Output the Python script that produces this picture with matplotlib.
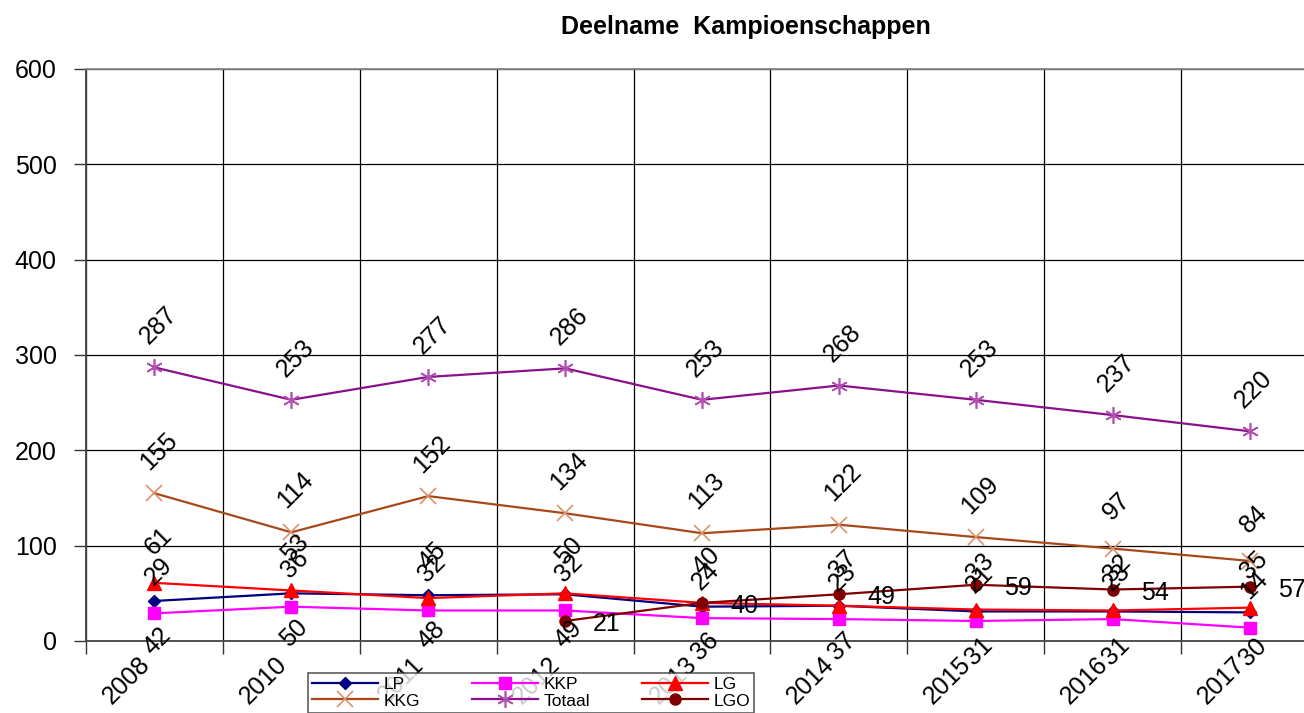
import matplotlib
matplotlib.use('Agg')
import matplotlib.pyplot as plt
import numpy as np

plt.rcParams['font.family'] = ['Liberation Sans', 'DejaVu Sans']

# data
years = ['2008', '2010', '2011', '2012', '2013', '2014', '2015', '2016', '2017']
lp = [42, 50, 48, 49, 36, 37, 31, 31, 30]
kkp = [29, 36, 32, 32, 24, 23, 21, 23, 14]
lg = [61, 53, 45, 50, 40, 37, 33, 32, 35]
kkg = [155, 114, 152, 134, 113, 122, 109, 97, 84]
totaal = [287, 253, 277, 286, 253, 268, 253, 237, 220]
lgo = [np.nan, np.nan, np.nan, 21, 40, 49, 59, 54, 57]

x = np.arange(len(years))

fig = plt.figure(figsize=(13.04, 7.13), dpi=100)
# plot area runs a bit past the right edge like in the original
ax = fig.add_axes([86 / 1304, 1 - 641 / 713, (1318 - 86) / 1304, (641 - 69) / 713])

h_lp, = ax.plot(x, lp, color='#000080', lw=1.6, marker='D', ms=6, label='LP', zorder=3)
h_kkp, = ax.plot(x, kkp, color='#FF00FF', lw=1.6, marker='s', ms=9, label='KKP', zorder=3)
h_lg, = ax.plot(x, lg, color='#FF0000', lw=1.6, marker='^', ms=10, label='LG', zorder=3)
h_kkg, = ax.plot(x, kkg, color='#A8481A', lw=1.6, marker='x', ms=11, mew=1.2,
                 mec='#D9926A', label='KKG', zorder=3)
h_tot, = ax.plot(x, totaal, color='#8B108B', lw=1.6, marker=(6, 2, 0), ms=12, mew=1.2,
                 mec='#B050B0', label='Totaal', zorder=3)
h_lgo, = ax.plot(x, lgo, color='#800000', lw=1.6, marker='o', ms=8, label='LGO', zorder=4)


def put_labels(vals, where):
    for xi, v in zip(x, vals):
        if np.isnan(v):
            continue
        if where == 'above':
            ax.annotate(str(int(v)), (xi, v), xytext=(4, 42), textcoords='offset pixels',
                        rotation=45, ha='center', va='center', fontsize=18, zorder=5)
        elif where == 'below':
            ax.annotate(str(int(v)), (xi, v), xytext=(3, -40), textcoords='offset pixels',
                        rotation=45, ha='center', va='center', fontsize=18,
                        annotation_clip=False, zorder=5)
        else:
            ax.annotate(str(int(v)), (xi, v), xytext=(42, -3), textcoords='offset pixels',
                        ha='center', va='center', fontsize=18, zorder=5)


put_labels(totaal, 'above')
put_labels(kkg, 'above')
put_labels(lg, 'above')
put_labels(kkp, 'above')
put_labels(lp, 'below')
put_labels(lgo, 'right')

ax.set_xlim(-0.5, len(years) - 0.5)
ax.set_ylim(0, 600)
ax.set_yticks(np.arange(0, 601, 100))
ax.set_xticks(x)
ax.set_xticks(np.arange(-0.5, len(years), 1), minor=True)
ax.set_xticklabels(years, rotation=45, ha='right', va='top', fontsize=18)
ax.tick_params(axis='x', which='major', length=0, pad=8)
ax.tick_params(axis='x', which='minor', length=9, width=1, color='#333333')
ax.tick_params(axis='y', length=9, width=1, color='#333333', labelsize=18, pad=12)

ax.grid(True, axis='y', color='black', lw=0.9)
ax.grid(True, axis='x', which='minor', color='black', lw=0.9)
ax.grid(False, axis='x', which='major')
ax.set_axisbelow(True)
for s in ['left', 'bottom']:
    ax.spines[s].set_color('#444444')
    ax.spines[s].set_linewidth(1.3)
ax.spines['top'].set_color('#888888')
ax.spines['top'].set_linewidth(1.3)
ax.spines['right'].set_visible(False)

fig.text(0.572, 0.962, 'Deelname  Kampioenschappen', ha='center', va='center',
         fontsize=18, fontweight='bold')

# legend is filled row by row in the original
handles = [h_lp, h_kkg, h_kkp, h_tot, h_lg, h_lgo]
leg = fig.legend(handles, [h.get_label() for h in handles], ncol=3,
                 loc='upper left', bbox_to_anchor=(308 / 1304, 1 - 673 / 713),
                 fontsize=12.5, frameon=True, fancybox=False, edgecolor='#333333',
                 handlelength=3.8, handletextpad=0.3, columnspacing=3.0,
                 labelspacing=0.05, borderpad=0.25, borderaxespad=0)
leg.get_frame().set_linewidth(1.2)

fig.savefig('out.png', dpi=100)
